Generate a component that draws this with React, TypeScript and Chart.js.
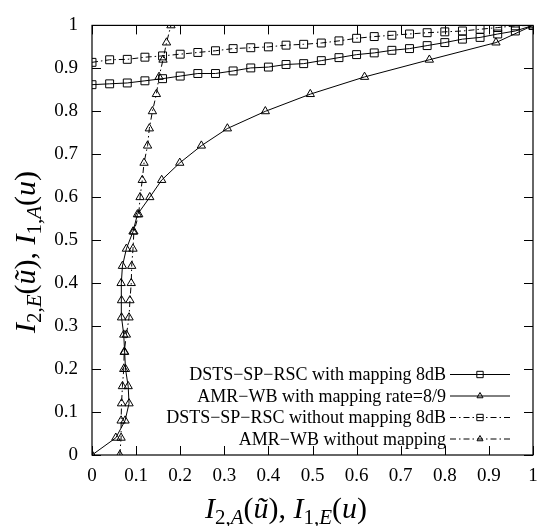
import React, { useEffect, useRef } from "react";
import { Chart, registerables } from "chart.js";
Chart.register(...registerables);

// x positions of the square-marker curves (outer code curves)
const squareX = [0, 0.04, 0.08, 0.12, 0.16, 0.2, 0.24, 0.28, 0.32, 0.36, 0.4, 0.44, 0.48, 0.52, 0.56, 0.6, 0.64, 0.68, 0.72, 0.76, 0.8, 0.84, 0.88, 0.92, 0.96, 1.0];
const dstsWithMapping = [0.862, 0.864, 0.866, 0.871, 0.876, 0.882, 0.888, 0.888, 0.894, 0.901, 0.903, 0.909, 0.911, 0.918, 0.925, 0.932, 0.936, 0.942, 0.946, 0.953, 0.96, 0.968, 0.972, 0.98, 0.987, 1.0];
const dstsWithoutMapping = [0.914, 0.92, 0.921, 0.926, 0.929, 0.933, 0.937, 0.941, 0.946, 0.948, 0.95, 0.954, 0.956, 0.959, 0.964, 0.97, 0.974, 0.977, 0.98, 0.983, 0.985, 0.987, 0.991, 0.995, 0.999, 1.0];

// y positions of the triangle-marker curves (inverted inner code curves)
const triangleY = [0, 0.04, 0.08, 0.12, 0.16, 0.2, 0.24, 0.28, 0.32, 0.36, 0.4, 0.44, 0.48, 0.52, 0.56, 0.6, 0.64, 0.68, 0.72, 0.76, 0.8, 0.84, 0.88, 0.92, 0.96, 1.0];
const amrWithMapping = [0, 0.054, 0.075, 0.084, 0.082, 0.076, 0.074, 0.072, 0.067, 0.067, 0.066, 0.069, 0.078, 0.093, 0.103, 0.131, 0.158, 0.199, 0.248, 0.307, 0.393, 0.495, 0.618, 0.765, 0.916, 1.0];
const amrWithoutMapping = [0.063, 0.066, 0.066, 0.067, 0.069, 0.072, 0.073, 0.078, 0.084, 0.086, 0.089, 0.09, 0.093, 0.095, 0.106, 0.109, 0.114, 0.118, 0.126, 0.13, 0.137, 0.146, 0.152, 0.161, 0.169, 0.179];

const tickValues = [0, 0.1, 0.2, 0.3, 0.4, 0.5, 0.6, 0.7, 0.8, 0.9, 1];
const tickLabels = ["0", "0.1", "0.2", "0.3", "0.4", "0.5", "0.6", "0.7", "0.8", "0.9", "1"];

const legendLabels = [
  "DSTS\u2212SP\u2212RSC with mapping 8dB",
  "AMR\u2212WB with mapping rate=8/9",
  "DSTS\u2212SP\u2212RSC without mapping 8dB",
  "AMR\u2212WB without mapping",
];

type Seg = { t: string; italic?: boolean; sub?: boolean };
const xTitle: Seg[] = [
  { t: "I", italic: true }, { t: "2,", sub: true }, { t: "A", sub: true, italic: true },
  { t: "(" }, { t: "\u0169", italic: true }, { t: "), " },
  { t: "I", italic: true }, { t: "1,", sub: true }, { t: "E", sub: true, italic: true },
  { t: "(" }, { t: "u", italic: true }, { t: ")" },
];
const yTitle: Seg[] = [
  { t: "I", italic: true }, { t: "2,", sub: true }, { t: "E", sub: true, italic: true },
  { t: "(" }, { t: "\u0169", italic: true }, { t: "), " },
  { t: "I", italic: true }, { t: "1,", sub: true }, { t: "A", sub: true, italic: true },
  { t: "(" }, { t: "u", italic: true }, { t: ")" },
];

const FONT = '"Liberation Serif", "DejaVu Serif", serif';
const DASH = [6, 3, 1.5, 3];

function segFont(s: Seg, size: number, subSize: number) {
  return `${s.italic ? "italic " : ""}${s.sub ? subSize : size}px ${FONT}`;
}

function drawRich(ctx: CanvasRenderingContext2D, segs: Seg[], cx: number, baseline: number, size: number) {
  const subSize = Math.round(size * 0.7);
  let total = 0;
  const widths = segs.map((s) => {
    ctx.font = segFont(s, size, subSize);
    const w = ctx.measureText(s.t).width;
    total += w;
    return w;
  });
  let x = cx - total / 2;
  ctx.textAlign = "left";
  ctx.textBaseline = "alphabetic";
  ctx.fillStyle = "#000";
  segs.forEach((s, i) => {
    ctx.font = segFont(s, size, subSize);
    ctx.fillText(s.t, x, baseline + (s.sub ? size * 0.2 : 0));
    x += widths[i];
  });
}

function drawMarker(ctx: CanvasRenderingContext2D, style: string, x: number, y: number, r: number) {
  ctx.beginPath();
  if (style === "rect") {
    const h = r * Math.SQRT1_2;
    ctx.rect(x - h, y - h, 2 * h, 2 * h);
  } else {
    const w = r * Math.sin(Math.PI / 3);
    ctx.moveTo(x, y - r);
    ctx.lineTo(x + w, y + r / 2);
    ctx.lineTo(x - w, y + r / 2);
    ctx.closePath();
  }
  ctx.stroke();
}

const framePlugin = {
  id: "frame",
  afterDatasetsDraw(chart: any) {
    const { ctx, chartArea } = chart;
    const { left, right, top, bottom } = chartArea;
    const xs = chart.scales.x;
    const ys = chart.scales.y;
    ctx.save();
    ctx.strokeStyle = "#000";
    ctx.lineWidth = 1.2;
    ctx.setLineDash([]);
    ctx.strokeRect(left, top, right - left, bottom - top);
    ctx.lineWidth = 1;
    const tl = 9;
    tickValues.forEach((v) => {
      const px = Math.round(xs.getPixelForValue(v)) + 0.5;
      ctx.beginPath();
      ctx.moveTo(px, bottom); ctx.lineTo(px, bottom - tl);
      ctx.moveTo(px, top); ctx.lineTo(px, top + tl);
      ctx.stroke();
      const py = Math.round(ys.getPixelForValue(v)) + 0.5;
      ctx.beginPath();
      ctx.moveTo(left, py); ctx.lineTo(left + tl, py);
      ctx.moveTo(right, py); ctx.lineTo(right - tl, py);
      ctx.stroke();
    });
    ctx.restore();
  },
};

const legendPlugin = {
  id: "customLegend",
  afterDraw(chart: any) {
    const { ctx } = chart;
    const rows = [374.5, 396, 417.5, 439];
    const styles = ["rect", "triangle", "rect", "triangle"];
    const dashed = [false, false, true, true];
    ctx.save();
    ctx.font = `18px ${FONT}`;
    ctx.fillStyle = "#000";
    ctx.textAlign = "right";
    ctx.textBaseline = "middle";
    legendLabels.forEach((lab, i) => {
      const y = rows[i];
      ctx.fillText(lab, 446, y + 1);
      ctx.strokeStyle = "#000";
      ctx.lineWidth = 1;
      ctx.setLineDash(dashed[i] ? DASH : []);
      ctx.beginPath();
      ctx.moveTo(450, y);
      ctx.lineTo(510, y);
      ctx.stroke();
      ctx.setLineDash([]);
      drawMarker(ctx, styles[i], 480, y, styles[i] === "rect" ? 4.5 : 3.5);
    });
    ctx.restore();
  },
};

const titlePlugin = {
  id: "mathTitles",
  afterDraw(chart: any) {
    const { ctx } = chart;
    ctx.save();
    drawRich(ctx, xTitle, 286, 518, 30);
    ctx.translate(35, 252);
    ctx.rotate(-Math.PI / 2);
    drawRich(ctx, yTitle, 0, 0, 30);
    ctx.restore();
  },
};

function fmtTick(v: number) {
  const i = tickValues.findIndex((t) => Math.abs(t - v) < 1e-6);
  return i >= 0 ? tickLabels[i] : "";
}

export default function App() {
  const ref = useRef<HTMLCanvasElement>(null);
  useEffect(() => {
    document.body.style.margin = "0";
    const canvas = ref.current!;
    const common = {
      borderColor: "#000",
      borderWidth: 1,
      pointBorderColor: "#000",
      pointBackgroundColor: "rgba(0,0,0,0)",
      pointBorderWidth: 1,
      tension: 0,
      fill: false,
      showLine: true,
    };
    const chart = new Chart(canvas, {
      type: "scatter",
      data: {
        datasets: [
          {
            ...common,
            label: legendLabels[0],
            data: squareX.map((x, i) => ({ x, y: dstsWithMapping[i] })),
            pointStyle: "rect",
            pointRadius: 5.6,
          },
          {
            ...common,
            label: legendLabels[1],
            data: triangleY.map((y, i) => ({ x: amrWithMapping[i], y })),
            pointStyle: "triangle",
            pointRadius: 4.8,
          },
          {
            ...common,
            label: legendLabels[2],
            data: squareX.map((x, i) => ({ x, y: dstsWithoutMapping[i] })),
            pointStyle: "rect",
            pointRadius: 5.6,
            borderDash: DASH,
          },
          {
            ...common,
            label: legendLabels[3],
            data: triangleY.map((y, i) => ({ x: amrWithoutMapping[i], y })),
            pointStyle: "triangle",
            pointRadius: 4.8,
            borderDash: DASH,
          },
        ],
      },
      options: {
        animation: false,
        responsive: false,
        devicePixelRatio: 1,
        layout: { padding: { left: 0, top: 13, right: 18, bottom: 0 } },
        plugins: { legend: { display: false }, tooltip: { enabled: false } },
        scales: {
          x: {
            type: "linear",
            min: 0,
            max: 1,
            afterBuildTicks: (s: any) => { s.ticks = tickValues.map((v) => ({ value: v })); },
            afterFit: (s: any) => { s.height = 71; },
            grid: { display: false, drawTicks: false },
            border: { display: false },
            ticks: { callback: (v: any) => fmtTick(Number(v)), padding: 10, color: "#000", font: { family: FONT, size: 19 }, maxRotation: 0, autoSkip: false },
          },
          y: {
            type: "linear",
            min: 0,
            max: 1,
            afterBuildTicks: (s: any) => { s.ticks = tickValues.map((v) => ({ value: v })); },
            afterFit: (s: any) => { s.width = 92; },
            grid: { display: false, drawTicks: false },
            border: { display: false },
            ticks: { callback: (v: any) => fmtTick(Number(v)), padding: 14, color: "#000", font: { family: FONT, size: 19 }, autoSkip: false },
          },
        },
      },
      plugins: [framePlugin, legendPlugin, titlePlugin],
    } as any);
    return () => chart.destroy();
  }, []);
  return (
    <div style={{ width: 551, height: 526, background: "#fff" }}>
      <canvas ref={ref} width={551} height={526} style={{ display: "block" }} />
    </div>
  );
}
